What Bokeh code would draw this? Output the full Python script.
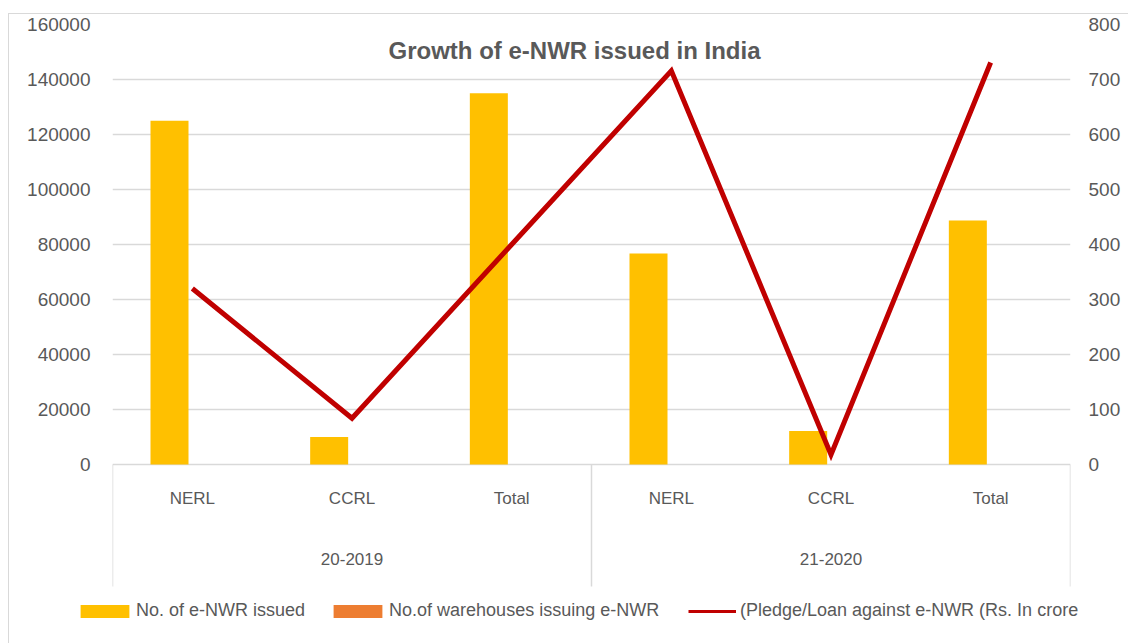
from bokeh.plotting import figure
from bokeh.models import (Range1d, LinearAxis, FixedTicker, ColumnDataSource,
                          Legend, LegendItem, Grid, NumeralTickFormatter)
from bokeh.layouts import column
from bokeh.core.properties import value
from bokeh.embed import file_html
from bokeh.resources import INLINE

# ---------------- data ----------------
years = ["20-2019", "21-2020"]
subcats = ["NERL", "CCRL", "Total"]
enwr_issued = [125000, 10000, 135000, 76700, 12200, 88700]      # left axis
warehouses = [0, 0, 0, 0, 0, 0]                                   # not visible at this scale
pledge_loan = [320, 84, 400, 716, 18, 731]                        # right axis (Rs. crore)
left_ticks = [0, 20000, 40000, 60000, 80000, 100000, 120000, 140000, 160000]
right_ticks = [0, 100, 200, 300, 400, 500, 600, 700, 800]
title_text = "Growth of e-NWR issued in India"
legend_labels = ["No. of e-NWR issued", "No.of warehouses issuing e-NWR",
                 "(Pledge/Loan against e-NWR (Rs. In crore"]

# ---------------- styles ----------------
YELLOW = "#FFC000"
ORANGE = "#ED7D31"
RED = "#C00000"
TXT = "#595959"
GRID = "#D9D9D9"
SANS = value("'Liberation Sans', Arial, sans-serif")

W, H_MAIN, H_LEG = 1128, 592, 51
LEFT, RIGHT, TOP, BOTTOM = 112, 58, 24, 0
FW, FH = W - LEFT - RIGHT, H_MAIN - TOP - BOTTOM
ZERO_PX = 440                          # px from frame top to value 0
YMAX = 160000
UNIT = YMAX / ZERO_PX                  # data units per px
ymin = -(FH - ZERO_PX) * UNIT
n = len(years) * len(subcats)


def below(px):
    """data y for a point px pixels below the zero line"""
    return -px * UNIT


def xpx(px_from_frame_left):
    return px_from_frame_left * n / FW


p = figure(width=W, height=H_MAIN, output_backend="svg",
           toolbar_location=None, x_axis_type=None, y_axis_type=None,
           x_range=Range1d(0, n), y_range=Range1d(ymin, YMAX),
           min_border_left=LEFT, min_border_right=RIGHT,
           min_border_top=TOP, min_border_bottom=BOTTOM,
           outline_line_color=None, background_fill_color=None,
           border_fill_color=None)
p.frame_align = False

# axes
lax = LinearAxis(ticker=FixedTicker(ticks=left_ticks),
                 formatter=NumeralTickFormatter(format="0"))
p.extra_y_ranges = {"right": Range1d(ymin * 800 / YMAX, 800)}
rax = LinearAxis(y_range_name="right", ticker=FixedTicker(ticks=right_ticks))
for ax, st in ((lax, 22), (rax, 18)):
    ax.axis_line_color = None
    ax.major_tick_line_color = None
    ax.minor_tick_line_color = None
    ax.major_tick_out = 0
    ax.major_tick_in = 0
    ax.major_label_standoff = st
    ax.major_label_text_font = "Liberation Sans"
    ax.major_label_text_font_size = "19px"
    ax.major_label_text_color = TXT
p.add_layout(lax, "left")
p.add_layout(rax, "right")

p.add_layout(Grid(dimension=1, ticker=FixedTicker(ticks=left_ticks),
                  grid_line_color=GRID, grid_line_width=1.5))

centers = [i + 0.5 for i in range(n)]
src = ColumnDataSource(dict(
    x1=[c - 0.143 for c in centers],
    x2=[c + 0.095 for c in centers],
    xc=centers,
    issued=enwr_issued,
    wh=warehouses,
    loan=pledge_loan,
))

r1 = p.vbar(x="x1", top="issued", bottom=0, width=0.238, source=src,
            fill_color=YELLOW, line_color=None)
r2 = p.vbar(x="x2", top="wh", bottom=0, width=0.238, source=src,
            fill_color=ORANGE, line_color=None)
r3 = p.line(x="xc", y="loan", source=src, y_range_name="right",
            line_color=RED, line_width=5, line_join="miter")

# category separators
sep_x = [0, len(subcats), n]
p.segment(x0=sep_x, x1=sep_x, y0=[0] * 3, y1=[below(122)] * 3,
          line_color=GRID, line_width=1.5)

# sub-category and group labels
p.text(x=centers, y=[below(34)] * n, text=subcats * len(years),
       text_font=SANS, text_font_size="17px", text_color=TXT,
       text_align="center", text_baseline="middle")
gx = [len(subcats) * (g + 0.5) for g in range(len(years))]
p.text(x=gx, y=[below(94)] * len(years), text=years,
       text_font=SANS, text_font_size="17px", text_color=TXT,
       text_align="center", text_baseline="middle")

# title
p.text(x=[xpx(574 - LEFT)], y=[YMAX - 26 * UNIT], text=[title_text],
       text_font=SANS, text_font_style="bold", text_font_size="24px",
       text_color=TXT, text_align="center", text_baseline="middle")

# ---------------- legend strip ----------------
# its own frame spans the full width; the series renderers reuse the same data
# source but lie outside this strip's ranges, so only their legend shows
lf = figure(width=W, height=H_LEG, output_backend="svg", toolbar_location=None,
            x_axis_type=None, y_axis_type=None,
            x_range=Range1d(-n, 0), y_range=Range1d(-300000, -200000),
            min_border=0, outline_line_color=None,
            background_fill_color=None, border_fill_color=None)
lf.frame_align = False
lf.grid.visible = False
lr1 = lf.vbar(x="x1", top="issued", bottom=0, width=0.238, source=src,
              fill_color=YELLOW, line_color=None)
lr2 = lf.vbar(x="x2", top="wh", bottom=0, width=0.238, source=src,
              fill_color=ORANGE, line_color=None)
lr3 = lf.line(x="xc", y="loan", source=src, line_color=RED, line_width=3)

common = dict(orientation="horizontal", padding=0, margin=0,
              border_line_color=None, background_fill_alpha=0,
              label_text_font="Liberation Sans", label_text_font_size="18px",
              label_text_color=TXT)
legA = Legend(items=[LegendItem(label=legend_labels[0], renderers=[lr1]),
                     LegendItem(label=legend_labels[1], renderers=[lr2])],
              location=(74, 22), glyph_width=61, glyph_height=16,
              label_standoff=1, spacing=22, **common)
legB = Legend(items=[LegendItem(label=legend_labels[2], renderers=[lr3])],
              location=(688, 22), glyph_width=48, glyph_height=16,
              label_standoff=4, spacing=0, **common)
lf.add_layout(legA, "center")
lf.add_layout(legB, "center")

layout = column(p, lf, spacing=0)
# light chart-area border (left and top edges) painted behind the figures
layout.styles = {
    "background": ("linear-gradient(#D9D9D9, #D9D9D9) 8px 13px / 1px 640px no-repeat, "
                   "linear-gradient(#D9D9D9, #D9D9D9) 8px 13px / 1120px 1px no-repeat, "
                   "#FFFFFF"),
}
open("out.html", "w").write(file_html(layout, INLINE))
